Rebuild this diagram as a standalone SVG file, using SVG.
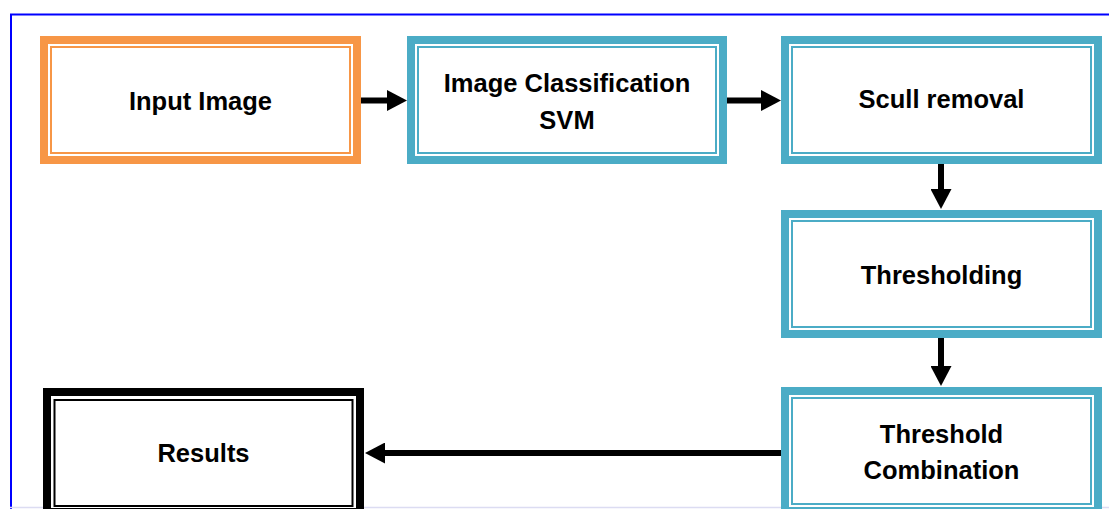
<svg xmlns="http://www.w3.org/2000/svg" width="1109" height="509" viewBox="0 0 1109 509">
  <style>
    .lbl { font-family: "Liberation Sans", Arial, sans-serif; font-weight: bold; font-size: 25.5px; fill: #000; text-anchor: middle; }
    .thick { fill: #fff; stroke-width: 8; }
    .thin { fill: none; stroke-width: 2; }
    .orange { stroke: #F79646; }
    .teal { stroke: #4BACC6; }
    .dark { stroke: #000; }
    .conn { stroke: #000; stroke-width: 6; fill: none; }
  </style>
  <defs>
    <marker id="head" markerUnits="userSpaceOnUse" markerWidth="20" markerHeight="21" refX="1" refY="10.5" orient="auto">
      <path d="M0,0 L20,10.5 L0,21 Z" fill="#000"/>
    </marker>
  </defs>

  <rect width="1109" height="509" fill="#fff"/>

  <!-- page frame -->
  <g id="frame">
    <path d="M11,509 L11,14.5 L1109,14.5" fill="none" stroke="#0000FF" stroke-width="2"/>
    <line x1="10" y1="507.5" x2="1109" y2="507.5" stroke="#dcdcf2" stroke-width="1.5"/>
  </g>

  <g id="input-image">
    <rect class="thick orange" x="44" y="40" width="313" height="120"/>
    <rect class="thin orange" x="51" y="47" width="299" height="106"/>
    <text class="lbl" x="200.5" y="110">Input Image</text>
  </g>

  <g id="image-classification">
    <rect class="thick teal" x="411" y="40" width="312" height="120"/>
    <rect class="thin teal" x="418" y="47" width="298" height="106"/>
    <text class="lbl" x="567" y="92">Image Classification</text>
    <text class="lbl" x="567" y="128.5">SVM</text>
  </g>

  <g id="scull-removal">
    <rect class="thick teal" x="785" y="40" width="313" height="120"/>
    <rect class="thin teal" x="792" y="47" width="299" height="106"/>
    <text class="lbl" x="941.5" y="107.5">Scull removal</text>
  </g>

  <g id="thresholding">
    <rect class="thick teal" x="785" y="214" width="313" height="120"/>
    <rect class="thin teal" x="792" y="221" width="299" height="106"/>
    <text class="lbl" x="941.5" y="283.5">Thresholding</text>
  </g>

  <g id="threshold-combination">
    <rect class="thick teal" x="785" y="391" width="313" height="120"/>
    <rect class="thin teal" x="792" y="398" width="299" height="106"/>
    <text class="lbl" x="941.5" y="442.5">Threshold</text>
    <text class="lbl" x="941.5" y="479">Combination</text>
  </g>

  <g id="results">
    <rect class="thick dark" x="47" y="392" width="313" height="120"/>
    <rect class="thin dark" x="54.5" y="400" width="298" height="106"/>
    <text class="lbl" x="203.5" y="462">Results</text>
  </g>

  <g id="connectors">
    <line class="conn" x1="361" y1="100.5" x2="388" y2="100.5" marker-end="url(#head)"/>
    <line class="conn" x1="727" y1="100.5" x2="762" y2="100.5" marker-end="url(#head)"/>
    <line class="conn" x1="941" y1="164" x2="941" y2="190" marker-end="url(#head)"/>
    <line class="conn" x1="941" y1="338" x2="941" y2="367" marker-end="url(#head)"/>
    <line class="conn" x1="781" y1="453" x2="384" y2="453" marker-end="url(#head)"/>
  </g>
</svg>
